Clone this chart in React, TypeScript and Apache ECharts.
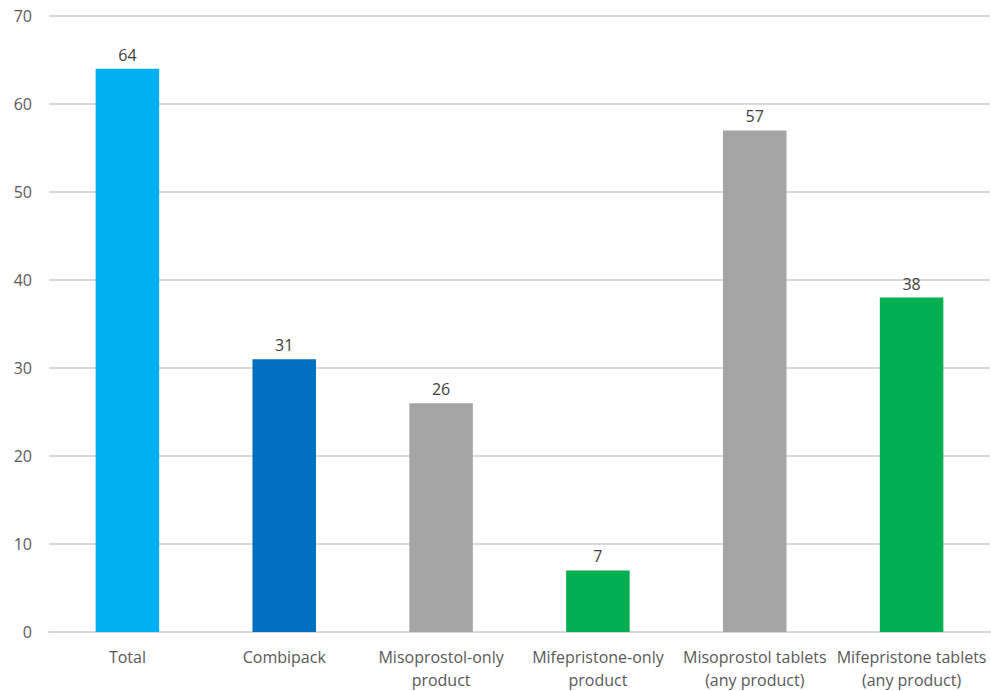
import React, { useEffect, useRef } from "react";
import * as echarts from "echarts";

const categories = [
  "Total",
  "Combipack",
  "Misoprostol-only\nproduct",
  "Mifepristone-only\nproduct",
  "Misoprostol tablets\n(any product)",
  "Mifepristone tablets\n(any product)",
];
const values = [64, 31, 26, 7, 57, 38];
const barColors = ["#00B0F0", "#0070C0", "#A5A5A5", "#00B050", "#A5A5A5", "#00B050"];
const yTicks = { min: 0, max: 70, interval: 10 };

const FONT = "'Open Sans', 'Noto Sans', sans-serif";

export default function App() {
  const ref = useRef<HTMLDivElement>(null);
  useEffect(() => {
    if (!ref.current) return;
    const chart = echarts.init(ref.current, undefined, { renderer: "svg" });
    chart.setOption({
      animation: false,
      backgroundColor: "#ffffff",
      grid: { left: 49, right: 1, top: 16, bottom: 58, containLabel: false },
      xAxis: {
        type: "category",
        data: categories,
        axisLine: { show: true, lineStyle: { color: "#D9D9D9", width: 2 } },
        axisTick: { show: false },
        axisLabel: {
          color: "#595959",
          fontFamily: FONT,
          fontSize: 16,
          lineHeight: 23,
          margin: 13,
          interval: 0,
        },
      },
      yAxis: {
        type: "value",
        min: yTicks.min,
        max: yTicks.max,
        interval: yTicks.interval,
        axisLine: { show: false },
        axisTick: { show: false },
        splitLine: { lineStyle: { color: "#D9D9D9", width: 2 } },
        axisLabel: {
          color: "#595959",
          fontFamily: FONT,
          fontSize: 16,
          margin: 17,
        },
      },
      series: [
        {
          type: "bar",
          barWidth: "40.5%",
          data: values.map((v, i) => ({ value: v, itemStyle: { color: barColors[i] } })),
          label: {
            show: true,
            position: "top",
            distance: 6,
            color: "#404040",
            fontFamily: FONT,
            fontSize: 16,
          },
        },
      ],
    });
    return () => chart.dispose();
  }, []);
  return (
    <div
      ref={ref}
      style={{ position: "absolute", left: 0, top: 0, width: 991, height: 691 }}
    />
  );
}
